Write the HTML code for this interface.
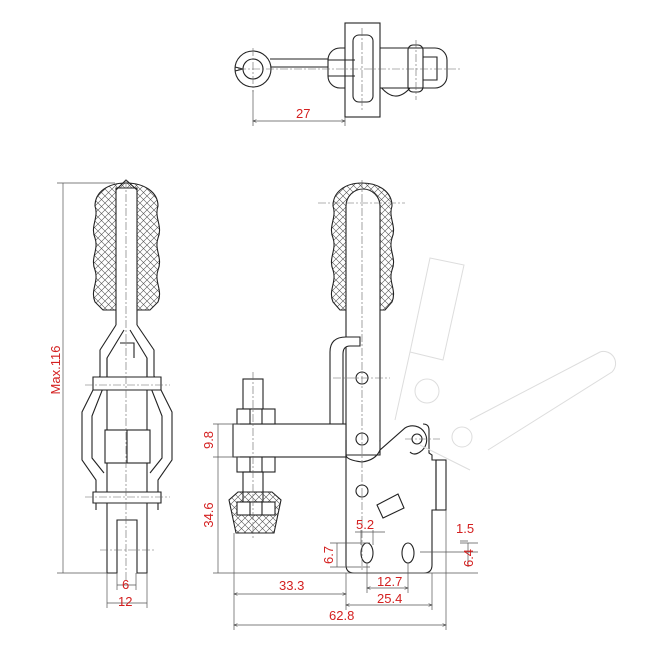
<!DOCTYPE html>
<html><head><meta charset="utf-8"><style>
html,body{margin:0;padding:0;background:#fff}
svg{display:block}
text{font-family:"Liberation Sans",sans-serif;fill:#d42020;font-size:13px}
</style></head><body>
<svg width="650" height="650" viewBox="0 0 650 650" xmlns="http://www.w3.org/2000/svg">
<defs>
<pattern id="h" width="7" height="7" patternUnits="userSpaceOnUse">
<path d="M0 0L7 7M7 0L0 7" stroke="#555" stroke-width="0.6"/>
</pattern>
<marker id="a" markerWidth="6" markerHeight="6" refX="5" refY="3" orient="auto-start-reverse"><path d="M0 1L5 3L0 5" fill="none" stroke="#444" stroke-width="0.8"/></marker>
</defs>
<g fill="none" stroke="#222" stroke-width="1.1">
<!-- TOP VIEW -->
<path d="M270 59H330M270 67H330"/>
<circle cx="253" cy="69" r="18" fill="#fff"/>
<circle cx="253" cy="69" r="10"/>
<path d="M235 67L243 69L235 71"/>
<path d="M380 86Q395 105 410 88" />
<rect x="328" y="48" width="119" height="40" rx="12" fill="#fff"/>
<rect x="345" y="23" width="35" height="94" fill="#fff"/>
<rect x="353" y="35" width="20" height="67" rx="6"/>
<rect x="408" y="45" width="15" height="47" rx="5"/>
<path d="M328 60H355M328 76H355M423 57H437V80H423"/>
<!-- SIDE VIEW -->
<path d="M333 302C328 290 337 282 333 270C328 258 337 250 333 238C328 226 337 218 333 206C333 192 345 183 362 183C379 183 392 192 392 206C388 218 397 226 392 238C388 250 397 258 392 270C388 282 397 290 392 302L385 310H340Z" fill="url(#h)"/>
<path d="M346 455V206A17 17 0 0 1 380 206V455" fill="#fff"/>
<path d="M346 337H360V346H350Q343 346 343 354V424H330V352Q330 337 346 337" fill="#fff"/>
<rect x="233" y="424" width="113" height="33" fill="#fff"/>
<rect x="243" y="379" width="20" height="30"/>
<rect x="237" y="409" width="38" height="15" fill="#fff"/>
<rect x="237" y="457" width="38" height="15" fill="#fff"/>
<rect x="243" y="472" width="20" height="30"/>
<path d="M238 492L229 500L236 533H274L281 500L272 492Z" fill="url(#h)"/>
<rect x="237" y="502" width="38" height="13" fill="#fff"/>
<path d="M250 409V424M262 409V424M250 457V472M262 457V472M250 502V515M262 502V515"/>
<path d="M346 455V565Q346 573 354 573H424Q432 573 432 565V510H436V460H432V455L429 453V430Q429 424 423 424" fill="#fff"/>
<rect x="436" y="460" width="10" height="50"/>
<path d="M346 455Q346 460 362 462Q376 460 380 450L405 428A13 13 0 1 1 420 452Q414 456 410 452" />
<circle cx="417" cy="439" r="5"/>
<path d="M346 440V455H380V440" />
<circle cx="362" cy="378" r="6"/><circle cx="362" cy="439" r="6"/><circle cx="362" cy="491" r="6"/>
<path d="M377 505L398 494L404 508L383 518Z"/>
<ellipse cx="367" cy="553" rx="6" ry="10"/><ellipse cx="408" cy="553" rx="6" ry="10"/>
<!-- FRONT VIEW -->
<path d="M95 302C90 290 99 282 95 270C90 258 99 250 95 238C90 226 99 218 95 206C95 192 108 183 126 183C144 183 158 192 158 206C154 218 163 226 158 238C154 250 163 258 158 270C154 282 163 290 158 302L150 310H103Z" fill="url(#h)"/>
<path d="M116 325V188H137V325" fill="#fff"/>
<path d="M116 325L100 350V376L82 412V460L96 480V510"/>
<path d="M137 325L154 350V376L172 412V460L158 480V510"/>
<path d="M124 330L107 358V378L92 416V458L104 473"/>
<path d="M130 330L147 358V378L162 416V458L150 473"/>
<path d="M107 358V573H117V520H137V573H147V358"/>
<path d="M120 343H134V358"/>
<path d="M93 377H161V390H93ZM93 492H161V503H93Z" fill="#fff"/>
<rect x="105" y="430" width="45" height="33" fill="#fff"/>
<path d="M127 430V463"/>
<path d="M116 190L126 180L137 190"/>
</g>
<g fill="none" stroke="#666" stroke-width="0.6" stroke-dasharray="8 2 2 2">
<path d="M238 69H460M253 48V92M362 28V110M416 40V100"/>
<path d="M318 203H405M362 180V570M333 378H390M405 439H440M253 372V540M126 180V580M85 385H170M85 497H170M100 550H155"/>
</g>
<g fill="none" stroke="#ddd" stroke-width="1">
<path d="M430 258L464 265L443 360L410 352Z"/>
<path d="M410 352L395 420M470 420L600 352A12 12 0 0 1 612 372L488 450M420 445L470 470"/>
<circle cx="427" cy="391" r="12"/><circle cx="462" cy="437" r="10"/>
</g>
<g fill="none" stroke="#555" stroke-width="0.7">
<path d="M213 424H240M213 457H240M213 573H478M218 424V573"/>
<path d="M63 183V573M57 183H115M57 573H107"/>
<path d="M107 573V608M147 573V608M117 573V590M136 573V590" />
<path d="M253 90V126M345 117V126M234 533V630M346 573V610M432 573V610M446 510V630M367 563V593M408 563V593"/>
<path d="M330 543H370M330 567H370M337 543V567M361 530V545M373 530V545M355 532H385"/>
<path d="M420 552H478M468 543V567M460 541H468M460 543H478"/>
<path d="M253 121H345" marker-start="url(#a)" marker-end="url(#a)"/>
<path d="M234 594H346" marker-start="url(#a)" marker-end="url(#a)"/>
<path d="M367 588H408" marker-start="url(#a)" marker-end="url(#a)"/>
<path d="M346 605H432" marker-start="url(#a)" marker-end="url(#a)"/>
<path d="M234 625H446" marker-start="url(#a)" marker-end="url(#a)"/>
<path d="M117 585H136M107 603H147"/>
</g>
<text x="296" y="118">27</text>
<text x="279" y="590">33.3</text>
<text x="377" y="586">12.7</text>
<text x="377" y="603">25.4</text>
<text x="329" y="620">62.8</text>
<text x="356" y="529">5.2</text>
<text x="456" y="533">1.5</text>
<text x="122" y="589">6</text>
<text x="118" y="606">12</text>
<text transform="translate(213,440) rotate(-90)" text-anchor="middle">9.8</text>
<text transform="translate(213,515) rotate(-90)" text-anchor="middle">34.6</text>
<text transform="translate(333,555) rotate(-90)" text-anchor="middle">6.7</text>
<text transform="translate(473,558) rotate(-90)" text-anchor="middle">6.4</text>
<text transform="translate(60,370) rotate(-90)" text-anchor="middle">Max.116</text>
</svg>
</body></html>
